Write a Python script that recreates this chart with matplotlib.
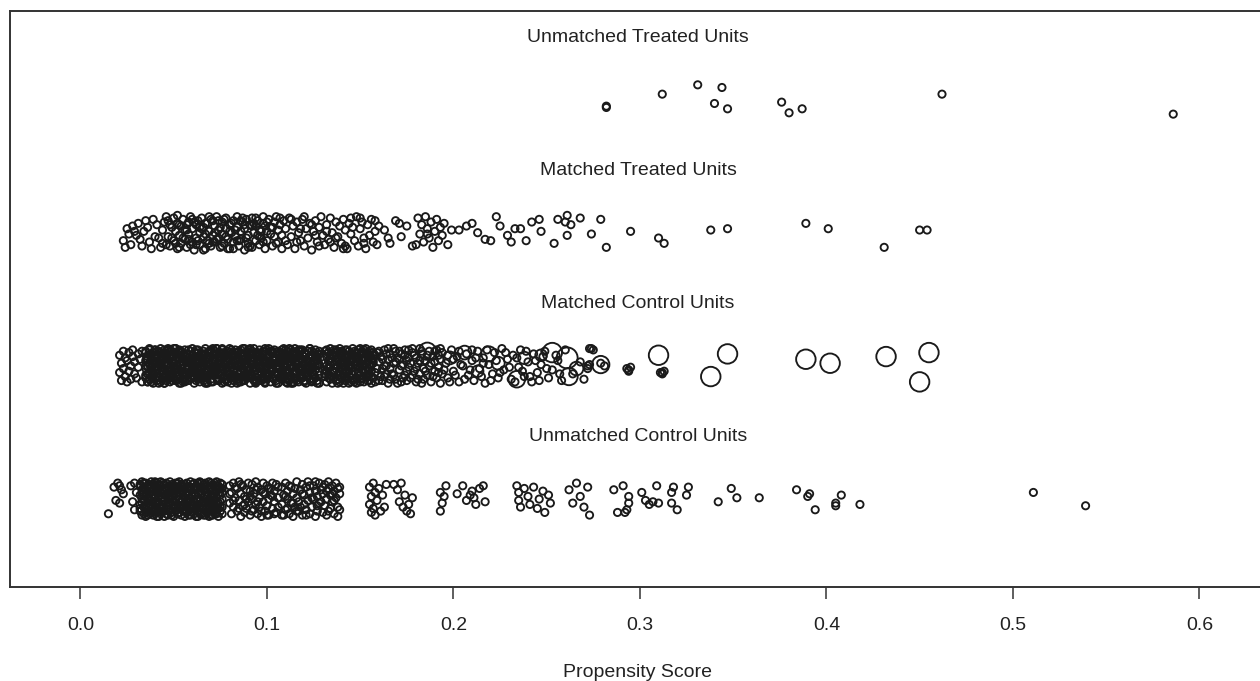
#!/usr/bin/env python3
"""
Jitter plot of propensity scores: matched / unmatched treated and control units.
"""

import numpy as np
import matplotlib
matplotlib.use("Agg")
import matplotlib.pyplot as plt

# Row labels, top to bottom (row 4 .. row 1)
group_labels = ['Unmatched Treated Units', 'Matched Treated Units',
                'Matched Control Units', 'Unmatched Control Units']
group_rows = [4, 3, 2, 1]

# Each point: (propensity score x 1000, vertical jitter x 100)
unmatched_treated = [
    (282, -5), (282, -6), (312, 4), (331, 11), (344, 9), (340, -3), (347, -7),
    (376, -2), (380, -10), (387, -7), (462, 4), (586, -11),
]

matched_treated = [
    (23, -6), (25, 3), (27, -9), (28, 5), (30, -2), (31, 7), (33, -10), (34, 1), (36, 4), (37, -7),
    (39, 10), (40, -3), (41, 6), (43, -11), (44, 2), (45, 8), (26, -1), (32, -5), (35, 9), (38, -12),
    (42, -4), (29, 1), (44, -8), (46, 12), (24, -11),
    (47, -3), (47, 9), (48, -10), (49, 4), (50, -6), (50, 11), (51, 1), (52, -12), (52, 7), (53, -2),
    (54, 5), (54, -8), (55, 10), (56, -5), (56, 2), (57, -11), (58, 8), (58, -1), (59, 12), (60, -7),
    (60, 3), (61, -13), (62, 6), (62, -4), (63, 9), (64, 0), (64, -9), (65, 11), (66, -3), (66, 4),
    (67, -12), (68, 7), (68, -6), (69, 1), (70, 10), (70, -10), (71, -2), (72, 5), (72, -7), (73, 12),
    (74, -4), (74, 2), (75, -11), (76, 8), (76, -1), (77, -8), (78, 11), (78, 3), (79, -5), (80, 6),
    (80, -12), (81, 0), (82, 9), (82, -7), (83, -3), (84, 12), (84, 4), (85, -10), (86, 1), (86, -5),
    (87, 8), (88, -13), (88, 3), (89, 10), (90, -2), (90, -8), (91, 6), (92, -11), (92, 11), (93, 0),
    (94, -6), (94, 5), (95, 9), (96, -9), (96, 2), (97, -4), (98, 12), (98, 7), (99, -12), (100, 1),
    (100, -6), (101, 10), (102, -1), (102, 4), (103, -10), (104, 8), (104, -3), (105, 12), (106, -7),
    (106, 2), (107, 6), (108, -12), (108, -2), (109, 9), (110, 3),
    (51, -8), (53, 6), (55, -4), (57, 2), (59, -9), (61, 8), (63, -6), (65, 3), (67, -1), (69, -8),
    (71, 9), (73, -5), (75, 4), (77, 10), (79, -12), (81, 7), (83, 2), (85, -6), (87, 11), (89, -4),
    (91, -10), (93, 7), (95, -2), (97, 1), (99, 5),
    (46, -9), (48, 6), (49, -4), (52, 13), (53, -11), (57, 6), (58, -5), (60, 10), (62, -9), (64, 4),
    (66, -13), (67, 7), (69, 12), (71, -7), (72, 0), (74, 9), (76, -10), (78, -3), (80, 1), (82, -12),
    (84, -6), (86, 9), (88, 6), (90, -11), (92, 5), (94, 11), (96, -3), (98, -7), (100, 8), (103, 4),
    (105, -8), (107, 11), (110, -6), (113, 10), (116, -7), (120, 12), (124, 6), (128, -10), (132, 1),
    (137, -4), (141, -12), (145, 11), (152, -8), (158, 9), (165, -4), (171, 7), (180, -9), (186, -1),
    (111, -9), (112, 11), (113, -3), (114, 5), (115, -12), (116, 8), (117, 0), (118, -6), (119, 10),
    (120, -10), (121, 3), (122, -4), (123, 7), (124, -13), (125, 1), (126, 9), (127, -7), (128, 4),
    (129, 12), (130, -2), (131, -9), (132, 6), (133, -5), (134, 11), (135, 0), (136, -11), (137, 8),
    (138, -3), (139, 5), (140, -8), (141, 10), (142, 2), (143, -12), (144, 7), (145, -1), (146, 4),
    (147, -6), (148, 12), (149, -10), (150, 3), (151, 8), (152, -4), (153, -12), (154, 6), (155, -2),
    (156, 10), (157, -7), (158, 1), (159, -9), (160, 5), (118, 3), (126, -2), (134, -7), (142, -10),
    (150, 11),
    (163, 2), (166, -8), (169, 9), (172, -3), (175, 5), (178, -10), (181, 11), (182, -1), (183, 6),
    (184, -7), (185, 12), (186, 3), (187, -4), (188, 8), (189, -11), (190, 1), (191, 10), (192, -6),
    (193, 4), (194, -2), (195, 7), (197, -9), (199, 2),
    (203, 2), (207, 5), (210, 7), (213, 0), (217, -5), (220, -6), (223, 12), (225, 5), (229, -2),
    (231, -7), (233, 3), (236, 3), (239, -6), (242, 8), (246, 10), (247, 1), (254, -8), (256, 10),
    (260, 8), (261, 13), (263, 6), (261, -2), (268, 11), (274, -1), (279, 10), (282, -11), (295, 1),
    (310, -4), (313, -8), (338, 2), (347, 3), (389, 7), (401, 3), (431, -11), (450, 2), (454, 2),
]

matched_control = [
    (21, -5), (21, 8), (22, 2), (22, -11), (23, 11), (23, -2), (24, 6), (24, -8), (25, -12), (25, 4),
    (26, 10), (26, -4), (27, 0), (27, -10), (28, 7), (28, 12), (29, -6), (29, 3), (30, -9), (31, 9),
    (31, -1), (32, 5), (33, -12), (33, 11),
    (35, 4), (35, -9), (35, 11), (35, -2), (36, 7), (36, -12), (36, 0), (37, -6), (37, 13), (37, 2),
    (37, -10), (38, 9), (38, -4), (38, 5), (39, -13), (39, 1), (39, 10), (39, -7), (40, 6), (40, -3),
    (40, 12), (41, -8), (41, 3), (41, -11), (41, 8), (42, -1), (42, 11), (42, -5), (43, 7), (43, -12),
    (43, 2), (43, 13), (44, -6), (44, 4), (44, -9), (45, 10), (45, -2), (45, 6), (45, -13), (46, 1),
    (46, 9), (46, -7), (47, -4), (47, 12), (47, -10), (47, 5), (48, -1), (48, 8), (48, -12), (49, 3),
    (49, -6), (49, 11), (49, -3), (50, 7), (50, -9), (50, 0), (51, 13), (51, -5), (51, 4), (51, -11),
    (52, 9), (52, -2), (52, 6), (53, -8), (53, 2), (53, 12), (53, -13), (54, -4), (54, 10), (54, 1),
    (55, -10), (55, 5), (55, -6), (55, 8), (56, -1), (56, 12), (56, -12), (57, 3), (57, -7), (57, 9),
    (57, -3), (58, 6), (58, -11), (58, 0), (59, 11), (59, -5), (59, 4), (59, -9), (60, -2), (60, 8),
    (60, 13), (61, -8), (61, 1), (61, -13), (61, 6), (62, 10), (62, -4), (62, 3), (63, -10), (63, 7),
    (63, -1), (63, 12), (64, -6), (64, 2), (64, -12), (65, 9), (65, -3), (65, 5), (65, -8), (66, 11),
    (66, -11), (66, 0), (67, 4), (67, -5), (67, 13), (67, -9), (68, 7), (68, -2), (68, -13), (69, 1),
    (69, 10), (69, -7), (69, 6), (70, -4), (70, 12), (70, -10), (71, 3), (71, -1), (71, 8), (71, -12),
    (72, -6), (72, 11), (72, 5), (73, -9), (73, 0), (73, 13), (73, -3), (74, 7), (74, -11), (74, 2),
    (75, 9), (75, -7), (75, -1), (75, 4), (76, -13), (76, 12), (76, -4), (77, 6), (77, -8), (77, 1),
    (77, 10), (78, -2), (78, -10), (78, 8), (79, 3), (79, 11), (79, -5), (79, -12), (80, 5), (80, -6),
    (80, 13), (81, -1), (81, 9), (81, -9), (81, 2), (82, -11), (82, 7), (82, -3), (83, 12), (83, 0),
    (83, -7), (83, 4), (84, -13), (84, 10), (84, -4), (85, 6), (85, -10), (85, 1), (85, 11), (86, -5),
    (86, 3), (86, -12), (87, 8), (87, -2), (87, 13), (87, -8), (88, 0), (88, 5), (88, -11), (89, 10),
    (89, -6), (89, 2), (89, -1), (90, -9), (90, 12), (90, 7), (91, -3), (91, -13), (91, 4), (91, 9),
    (92, -7), (92, 1), (92, 11), (93, -10), (93, 6), (93, -4), (93, 13), (94, -1), (94, 8), (94, -12),
    (95, 3), (95, -6), (95, 10), (95, -9), (96, 5), (96, -2), (96, 12), (97, -11), (97, 0), (97, 7),
    (97, -5), (98, 9), (98, -8), (98, 2), (99, -13), (99, 11), (99, -3), (99, 4), (100, 6), (100, -10),
    (100, -1), (101, 13), (101, -7), (101, 3), (101, 8), (102, -4), (102, -12), (102, 10), (103, 1),
    (103, -9), (103, 5), (103, -2), (104, 12), (104, -6), (104, 7), (105, -11), (105, 0), (105, 9),
    (105, -5), (106, 3), (106, -13), (106, 11), (107, -8), (107, 6), (107, -1), (107, 2), (108, 10),
    (108, -4), (108, -10), (109, 4), (109, 13), (109, -7), (109, 0), (110, -12), (110, 8), (110, -3),
    (111, 5), (111, -9), (111, 11), (111, 1), (112, -5), (112, -11), (112, 7), (113, 12), (113, -2),
    (113, 3), (113, -8), (114, 9), (114, -13), (114, 0), (115, -6), (115, 6), (115, -10), (115, 13),
    (116, 2), (116, -4), (116, 10), (117, -12), (117, 8), (117, -1), (117, 4), (118, -7), (118, 11),
    (118, -3), (119, 5), (119, -9), (119, 1), (119, 12), (120, -11), (120, 7), (120, -5), (121, 3),
    (121, -13), (121, 9), (121, -2), (122, 0), (122, 11), (122, -8), (123, 6), (123, -4), (123, 13),
    (123, -10), (124, -1), (124, 8), (124, -12), (125, 4), (125, -6), (125, 10), (125, 2), (126, -9),
    (126, 12), (126, -3), (127, 7), (127, -11), (127, 0), (127, 5), (128, -7), (128, 9), (128, -13),
    (35, -7), (35, 10), (36, 5), (36, -12), (37, 12), (37, 1), (38, -1), (38, 7), (39, -10), (39, -5),
    (40, 8), (40, 12), (41, 3), (41, -8), (42, -13), (42, 3), (43, 10), (43, -1), (44, -4), (44, 9),
    (45, 1), (45, -13), (46, -8), (46, 5), (47, 13), (47, -3), (48, 6), (48, 11), (49, -11), (49, -6),
    (50, -3), (50, 0), (51, 9), (51, 13), (52, 0), (52, -10), (53, -6), (53, 6), (54, 11), (54, -2),
    (55, -12), (55, 8), (56, 4), (56, -11), (57, 7), (57, 4), (58, -2), (58, -7), (59, -9), (59, 2),
    (60, 2), (60, -4), (61, -5), (61, -9), (62, -5), (62, 12), (63, 2), (63, -8), (64, -9), (64, 3),
    (65, -2), (65, -1), (66, 7), (66, 9), (67, 4), (67, -13), (68, -12), (68, 5), (69, 11), (69, -3),
    (70, -6), (70, 11), (71, 0), (71, -6), (72, 9), (72, 0), (73, -3), (73, 13), (74, -11), (74, -10),
    (75, 6), (75, 6), (76, 13), (76, -2), (77, -8), (77, 8), (78, 1), (78, -11), (79, -4), (79, 4),
    (80, 10), (80, -7), (81, -13), (81, 2), (82, 3), (82, -4), (83, 8), (83, -9), (84, -10), (84, 10),
    (85, -1), (85, -12), (86, 12), (86, 1), (87, 5), (87, 7), (88, -7), (88, -5), (89, -9), (89, 1),
    (90, -4), (90, -8), (91, 2), (91, 13), (92, -7), (92, 6), (93, 4), (93, -11), (94, -11), (94, -3),
    (95, 8), (95, 9), (96, -2), (96, 0), (97, 6), (97, -6), (98, -10), (98, 11), (99, 13), (99, -12),
    (100, 0), (100, 4), (101, -6), (101, 7), (102, 11), (102, -2), (103, -3), (103, -9), (104, 5),
    (104, 2), (105, -13), (105, -5), (106, 9), (106, -7), (107, -1), (107, 5), (108, 3), (108, 12),
    (109, -8), (109, -1), (110, 12), (110, -10), (111, -5), (111, 8), (112, 7), (112, 3), (113, 1),
    (113, -13), (114, -12), (114, 10), (115, 10), (115, -4), (116, 6), (116, -9), (117, -3), (117, 11),
    (118, 12), (118, -6), (119, -8), (119, 3), (120, 1), (120, -12), (121, 9), (121, 5), (122, -5),
    (122, -2), (123, 3), (123, 13), (124, -11), (124, 7), (125, -1), (125, -7), (126, 8), (126, 0),
    (127, -13), (127, 4), (128, 11), (128, -4),
    (35, 0), (36, -6), (37, 8), (38, -12), (39, 4), (40, -1), (41, 11), (42, -9), (43, 5), (44, -3),
    (45, 12), (46, -11), (47, 2), (48, -6), (49, 9), (50, 13), (51, -2), (52, -8), (53, 10), (54, -13),
    (55, 1), (56, 7), (57, -10), (58, 12), (59, -5), (60, 4), (61, 10), (62, -11), (63, -3), (64, 7),
    (65, 1), (66, -8), (67, 9), (68, -4), (69, 3), (70, -12), (71, 13), (72, -2), (73, 6), (74, -7),
    (75, 10), (76, 0), (77, -12), (78, 4), (79, 8), (80, -3), (81, 12), (82, -9), (83, 5), (84, 1),
    (85, -6), (86, 9), (87, -11), (88, 13), (89, 6), (90, -1), (91, -7), (92, 3), (93, 10), (94, -13),
    (95, 0), (96, 8), (97, -9), (98, 4), (99, -6), (100, 12), (101, -3), (102, 1), (103, 11), (104, -10),
    (105, 5), (106, -2), (107, 10), (108, -7), (109, 7), (110, -1), (111, -13), (112, 13), (113, 6),
    (114, -5), (115, 2), (116, -11), (117, 12), (118, -9), (119, -2), (120, 10), (121, -6), (122, 4),
    (123, -1), (124, 11), (125, -10), (126, 5), (127, 9), (128, 1),
    (131, 2), (131, -8), (131, 11), (132, -4), (132, 7), (132, -12), (132, 0), (133, 10), (133, -6),
    (133, 4), (134, -10), (134, 13), (134, -1), (134, 6), (135, -13), (135, 3), (135, 9), (136, -5),
    (136, 12), (136, -9), (136, 1), (137, 8), (137, -2), (137, -11), (138, 5), (138, -7), (138, 11),
    (138, 0), (139, -4), (139, 13), (139, -12), (140, 7), (140, -1), (140, 3), (140, -9), (141, 10),
    (141, -6), (141, -13), (142, 2), (142, -3), (142, 12), (142, 6), (143, -10), (143, 8), (143, -5),
    (144, 0), (144, 11), (144, -8), (144, 4), (145, -12), (145, 9), (145, -2), (146, 5), (146, -6),
    (146, 13), (146, -11), (147, 1), (147, 7), (147, -4), (148, -9), (148, 10), (148, 3), (148, -13),
    (149, 6), (149, -1), (149, 12), (150, -7), (150, 2), (150, -10), (150, 8), (151, 11), (151, -3),
    (151, 4), (152, -12), (152, 0), (152, 9), (152, -5), (153, 6), (153, 13), (153, -8), (154, -2),
    (154, 3), (154, -11), (154, 10), (155, 7), (155, -6), (155, 1), (156, -13), (156, 12), (156, -4),
    (156, 5), (157, -9), (157, 8), (157, 2),
    (131, -6), (132, 9), (133, -1), (134, 3), (135, -8), (136, 7), (137, 12), (138, -10), (139, 2),
    (140, 11), (141, -3), (142, -8), (143, 4), (144, -13), (145, 6), (146, -1), (147, 11), (148, 0),
    (149, -6), (150, 13), (151, -9), (152, 5), (153, -3), (154, 8), (155, -11), (156, 1), (157, 10),
    (131, -3), (132, 12), (133, -9), (134, 8), (135, -4), (136, 10), (137, 4), (138, -13), (139, -7),
    (140, 9), (141, 1), (142, -11), (143, 12), (144, -4), (145, 3), (146, 9), (147, -12), (148, 6),
    (149, -5), (150, -12), (151, 0), (152, 12), (153, 1), (154, -7), (155, 11), (156, -8), (157, 4),
    (158, -5), (159, 10), (160, 3), (160, -11), (161, 7), (162, -2), (163, 12), (163, -8), (164, 0),
    (165, -13), (165, 5), (166, 9), (167, -6), (168, 2), (168, 13), (169, -10), (170, 6), (171, -3),
    (171, 11), (172, -12), (173, 1), (174, 8), (174, -7), (175, 4), (176, -1), (176, 12), (177, -9),
    (178, 10), (179, -4), (180, 6), (180, -12), (181, 2), (182, -6), (182, 13), (183, 9), (184, -2),
    (184, -10), (185, 4), (186, -7), (187, 11), (187, 0), (188, -12), (189, 7), (190, -4), (190, 3),
    (191, 12), (191, -9), (192, -1), (192, 8), (193, 5), (193, -13), (194, -6), (194, 10),
    (158, 8), (158, -12), (159, -2), (160, 11), (161, -8), (162, 5), (162, -11), (163, 0), (164, 9),
    (164, -6), (165, 13), (166, -2), (166, -10), (167, 6), (168, -7), (169, 3), (169, 11), (170, -13),
    (171, 5), (172, 0), (172, 9), (173, -9), (174, 12), (175, -4), (175, -11), (176, 6), (177, 2),
    (178, -7), (178, 13), (179, 8), (180, -1), (181, -10), (182, 4), (183, -13), (183, 11), (185, -4),
    (186, 8), (188, 2), (189, -8), (190, 11), (192, -5), (193, 13),
    (196, 2), (197, -9), (199, 12), (200, -4), (202, 7), (203, -12), (205, 0), (207, 9), (208, -7),
    (210, 4), (211, -11), (213, 11), (214, -2), (216, 6), (217, -13), (219, 1), (221, -6), (222, 10),
    (224, -9), (226, 13), (227, -3), (229, 5), (231, -10), (232, 8), (235, -1), (236, 12), (238, -8),
    (240, 3), (242, -12), (243, 9), (245, -5), (247, 1), (249, 11), (251, -9), (253, -3), (256, 4),
    (258, -11), (260, 12), (264, -6), (268, 3), (270, -10),
    (195, -3), (197, 8), (198, -12), (200, 5), (201, -7), (203, 11), (204, 1), (206, -10), (209, -3),
    (210, 12), (212, 6), (215, -8), (216, 2), (218, 12), (220, -11), (223, 4), (225, -5), (228, 10),
    (230, -1), (233, -12), (234, 6), (237, -4), (239, 11), (241, -8), (244, 4), (246, -11), (248, 7),
    (250, -2), (255, 8), (257, -6),
    (272, 0), (273, 1), (272, -2), (273, 13), (275, 12), (274, 13), (281, 0), (279, 2),
    (293, -2), (294, -3), (295, -1), (294, -4), (311, -5), (312, -6), (313, -4), (312, -5),
]

# Controls with a larger matching weight: (score x 1000, jitter x 100, relative marker diameter)
matched_control_weighted = [
    (186, 11, 2.4), (198, 6, 1.8), (206, 10, 1.9), (213, -4, 1.6), (219, 9, 2.1), (224, 2, 1.8),
    (234, -10, 2.3), (238, 6, 1.7), (247, 8, 1.6), (253, 10, 2.7), (261, 6, 2.9), (262, -8, 2.4),
    (266, -2, 1.9), (279, 1, 2.4), (310, 8, 2.7), (347, 9, 2.7), (338, -8, 2.7), (389, 5, 2.7),
    (402, 2, 2.7), (432, 7, 2.7), (455, 10, 2.7), (450, -12, 2.7),
]

unmatched_control = [
    (15, -11), (18, 9), (20, 12), (21, 10), (22, 7), (19, -1), (21, -3), (23, 4),
    (27, 10), (28, -2), (29, -8), (30, 5), (29, 12),
    (32, 3), (32, -9), (32, 11), (32, -4), (33, 7), (33, -12), (33, 0), (33, 13), (34, -6), (34, 9),
    (34, -1), (34, 5), (35, -10), (35, 2), (35, 12), (35, -13), (36, 6), (36, -3), (36, 10), (36, -8),
    (37, 0), (37, -11), (37, 8), (37, 4), (38, -5), (38, 13), (38, -1), (38, -9), (39, 11), (39, 3),
    (39, -12), (39, 6), (40, -7), (40, 1), (40, 9), (40, -3), (41, 12), (41, -10), (41, 5), (41, -13),
    (42, -2), (42, 8), (42, -6), (42, 2), (43, 10), (43, -11), (43, 0), (43, 13), (44, -4), (44, 6),
    (44, -9), (44, 4), (45, 11), (45, -1), (45, -13), (45, 7), (46, -7), (46, 3), (46, 12), (46, -5),
    (47, 9), (47, -12), (47, 1), (47, -3), (48, 5), (48, 13), (48, -8), (48, 0), (49, -10), (49, 8),
    (49, -2), (49, 11), (50, 4), (50, -6), (50, -13), (50, 10), (51, -1), (51, 6), (51, -9), (51, 12),
    (52, 2), (52, -4), (52, 9), (52, -11), (53, 13), (53, -7), (53, 0), (53, 5), (54, -12), (54, 7),
    (54, -2), (54, 11), (55, 3), (55, -9), (55, 10), (55, -5), (56, -13), (56, 1), (56, 8), (56, -3),
    (57, 12), (57, -6), (57, 4), (57, -10), (58, -1), (58, 9), (58, -8), (58, 6), (59, 13), (59, -4),
    (59, 0), (59, -12), (60, 5), (60, -7), (60, 11), (60, 2), (61, -11), (61, 8), (61, -2), (61, -6),
    (62, 10), (62, 3), (62, -13), (62, 7), (63, -4), (63, 12), (63, -9), (63, 0), (64, 6), (64, -1),
    (64, 13), (64, -11), (65, -7), (65, 4), (65, 9), (65, -3), (66, 11), (66, -12), (66, 1), (66, -5),
    (67, -8), (67, 7), (67, 3), (67, 12), (68, -2), (68, -10), (68, 10), (68, 5), (69, 0), (69, 13),
    (69, -6), (69, -13), (70, 8), (70, -3), (70, 2), (70, -9), (71, 11), (71, -5), (71, 6), (71, -12),
    (72, -1), (72, 9), (72, -8), (72, 4), (73, 13), (73, -11), (73, 1), (73, -4), (74, 7), (74, -7),
    (74, 10), (74, -13), (75, -2), (75, 3), (75, 12), (75, -9), (76, 5), (76, -6), (76, 0), (76, 11),
    (32, -7), (32, 10), (33, 4), (33, -3), (34, 12), (34, -11), (35, -5), (35, 7), (36, 1), (36, -12),
    (37, 11), (37, -6), (38, 6), (38, 2), (39, -9), (39, -2), (40, 13), (40, -11), (41, -4), (41, 8),
    (42, 11), (42, -13), (43, -7), (43, 5), (44, 1), (44, 12), (45, -9), (45, 3), (46, 8), (46, -11),
    (47, 5), (47, -6), (48, -3), (48, 10), (49, 3), (49, -12), (50, 7), (50, -1), (51, -5), (51, 9),
    (52, 12), (52, -7), (53, -10), (53, 8), (54, 4), (54, -5), (55, -1), (55, 6), (56, 11), (56, -9),
    (57, -2), (57, 8), (58, 3), (58, -12), (59, 9), (59, -7), (60, -4), (60, -10), (61, 12), (61, 4),
    (62, -7), (62, 0), (63, 5), (63, -13), (64, -5), (64, 9), (65, 12), (65, -11), (66, 7), (66, -2),
    (67, -12), (67, 0), (68, 2), (68, -6), (69, 8), (69, -3), (70, 12), (70, -12), (71, -1), (71, 2),
    (72, -11), (72, 12), (73, 7), (73, -7), (74, -3), (74, 4), (75, -6), (75, 8), (76, -11), (76, 8),
    (80, -3), (80, 10), (81, 5), (81, -11), (82, 12), (82, -6), (83, 1), (84, -9), (84, 8), (85, -1),
    (85, 13), (86, -13), (86, 4), (87, 10), (87, -5), (88, -10), (88, 2), (89, 7), (89, -7), (90, 12),
    (90, -2), (91, -12), (91, 6), (92, 0), (92, 11), (93, -8), (93, 4), (94, -4), (94, 13), (95, 9),
    (95, -11), (96, 1), (96, -6), (97, 7), (97, -13), (98, 12), (98, -2), (99, 4), (99, -9), (100, 10),
    (100, -5), (101, 0), (101, -12), (102, 8), (102, 3), (103, -7), (103, 12), (104, -2), (104, 6),
    (105, -10), (105, 11), (106, 1), (106, -6),
    (80, 4), (82, -1), (83, 9), (85, -7), (86, 11), (88, -4), (89, 0), (91, 2), (92, -9), (94, 7),
    (95, -2), (97, -9), (98, 5), (100, -12), (101, 8), (103, 2), (104, -11), (106, 9),
    (108, 9), (108, -4), (109, -12), (109, 3), (110, 12), (110, -8), (111, 0), (111, 6), (112, -11),
    (112, 10), (113, -3), (114, 4), (114, -13), (115, 8), (115, -6), (116, 13), (116, 1), (117, -9),
    (117, -2), (118, 7), (119, 11), (119, -12), (120, -4), (120, 3), (121, 9), (121, -8), (122, -1),
    (122, 13), (123, 5), (123, -11), (124, -6), (125, 10), (125, 0), (126, -13), (126, 6), (127, 2),
    (127, -9), (128, 12), (128, -3), (129, 7), (130, -10), (130, 4), (131, 11), (131, -5), (132, 0),
    (132, -12), (133, 8), (133, 13), (134, -7), (134, 3), (135, -2), (135, 10), (136, -11), (136, 6),
    (137, 1), (137, 12), (138, -6), (138, -13), (139, 9), (139, 4),
    (108, -12), (110, 2), (111, -7), (113, 9), (114, -3), (116, -9), (118, -6), (119, 4), (121, -12),
    (123, 10), (124, 1), (126, 13), (127, -5), (129, -2), (130, 9), (132, 6), (133, -9), (135, 4),
    (136, -1), (138, 8), (139, -8),
    (155, 9), (155, -4), (156, 2), (156, -10), (157, 12), (157, -7), (158, 5), (158, -12), (159, -1),
    (160, 8), (161, -9), (162, 3), (163, -6), (164, 11),
    (168, 11), (170, 7), (172, 12), (171, -2), (173, -6), (174, 3), (175, -9), (176, -4), (177, -11),
    (178, 1),
    (193, 5), (193, -9), (194, -3), (195, 2), (196, 10),
    (202, 4), (205, 10), (207, -1), (209, 3), (210, 6), (211, 1), (212, -4), (214, 8), (216, 10),
    (217, -2),
    (234, 10), (235, 5), (235, -1), (236, -6), (238, 8), (240, 2), (241, -4), (243, 9), (245, -7),
    (246, 0), (248, 6), (249, -10), (251, 3), (252, -3),
    (262, 7), (264, -3), (266, 12), (268, 2), (270, -6), (272, 9), (273, -12),
    (286, 7), (291, 10), (294, 2), (294, -3), (288, -10), (292, -10), (293, -8), (301, 5), (303, -1),
    (305, -4), (307, -2), (309, 10), (310, -3), (318, 9), (317, 5), (317, -3), (320, -8), (325, 3),
    (326, 9), (342, -2), (349, 8), (352, 1), (364, 1), (384, 7), (391, 4), (390, 2), (394, -8),
    (405, -3), (405, -5), (408, 3), (418, -4), (511, 5), (539, -5),
]

x_ticks = [0.0, 0.1, 0.2, 0.3, 0.4, 0.5, 0.6]
x_tick_labels = ['0.0', '0.1', '0.2', '0.3', '0.4', '0.5', '0.6']

EDGE = '#1a1a1a'
TEXT = '#222222'
BASE_S = 27.0  # marker area (pt^2) for a unit-weight point


def split_points(points):
    """Turn (score*1000, jitter*100[, size]) tuples into float arrays."""
    arr = np.array(points, dtype=float)
    return arr[:, 0] / 1000.0, arr[:, 1] / 100.0, arr


def draw_group(ax, points, row, sizes=None):
    score, jit, _ = split_points(points)
    s = BASE_S if sizes is None else sizes
    ax.scatter(score, row + jit, s=s, facecolors='none', edgecolors=EDGE,
               linewidths=1.35, zorder=3)


def main():
    plt.rcParams['font.family'] = ['Liberation Sans', 'DejaVu Sans']

    fig = plt.figure(figsize=(12.6, 6.81), dpi=100)
    ax = fig.add_axes([0.0079, 0.138, 0.9968, 0.8458])

    draw_group(ax, unmatched_treated, 4)
    draw_group(ax, matched_treated, 3)
    draw_group(ax, matched_control, 2)
    _, _, w = split_points(matched_control_weighted)
    draw_group(ax, matched_control_weighted, 2, sizes=BASE_S * w[:, 2] ** 2)
    draw_group(ax, unmatched_control, 1)

    ax.set_xlim(-0.0378, 0.6357)
    ax.set_ylim(0.34, 4.664)

    # group titles centred over the plot
    x_mid = sum(ax.get_xlim()) / 2
    for label, row in zip(group_labels, group_rows):
        ax.text(x_mid, row + 0.468, label, ha='center', va='center',
                fontsize=14, color=TEXT)

    ax.set_xticks(x_ticks)
    ax.set_xticklabels(x_tick_labels)
    ax.set_yticks([])
    ax.tick_params(axis='x', length=8.5, width=1.1, color='#333333',
                   labelsize=14, labelcolor=TEXT, pad=13)
    ax.set_xlabel('Propensity Score', fontsize=14, color=TEXT, labelpad=22)

    for side in ['left', 'right', 'top', 'bottom']:
        ax.spines[side].set_color('#333333')
        ax.spines[side].set_linewidth(1.4)

    fig.savefig('out.png', dpi=100)


if __name__ == '__main__':
    main()
